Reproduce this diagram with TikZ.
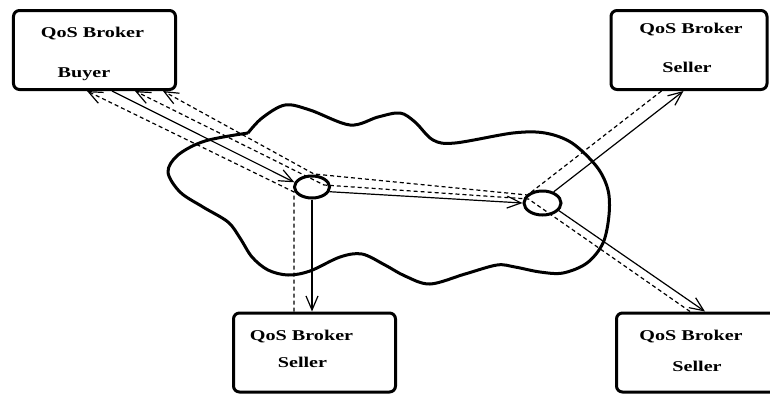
\documentclass[tikz,border=0pt]{standalone}
\usepackage{fontspec}
\setmainfont{Liberation Serif}[FakeStretch=1.35]
\usetikzlibrary{arrows.meta,shapes.geometric}
\begin{document}
\begin{tikzpicture}[x=1bp,y=-1bp,
  broker/.style={draw,line width=3bp,rounded corners=6bp,minimum width=162bp,minimum height=79bp,inner sep=0pt},
  router/.style={draw,ellipse,line width=3bp,minimum width=35bp,minimum height=22bp,inner sep=0pt},
  brokertext/.style={font=\fontsize{15}{18}\selectfont\bfseries,inner sep=0pt,anchor=base},
  request/.style={line width=1.2bp,-{Straight Barb[length=14bp,width=12bp]}},
  reply/.style={line width=1.2bp,dash pattern=on 4bp off 3bp,-{Straight Barb[length=14bp,width=12bp]}}]
\useasboundingbox (0,0) rectangle (770,395);
\clip (0,0) rectangle (770,395);
\draw [line width=3bp,line join=round] plot [smooth,tension=0.55] coordinates {
  (248,133) (262,118) (285,105) (310,110) (350,125) (378,117) (400,113) (415,122)
  (433,140) (455,143) (513,133) (545,133) (572,143) (597,167) (608,190) (609,215)
  (603,243) (587,263) (563,273) (540,272) (515,267) (497,265) (465,274) (430,284)
  (405,276) (385,265) (362,254) (340,257) (310,271) (288,275) (268,270) (252,257)
  (240,238) (228,222) (203,207) (180,192) (168,172) (178,155) (205,141) (248,133)};
\node [broker] (buyer) at (94.5,50) {};
\node [broker,minimum width=156bp] (seller-a) at (689,50) {};
\node [broker] (seller-b) at (314.5,352.5) {};
\node [broker] (seller-c) at (697.5,352.5) {};
\node [brokertext] (buyer-name) at (92.5,37) {QoS Broker};
\node [brokertext] (buyer-role) at (84,77) {Buyer};
\node [brokertext] (seller-a-name) at (691,33) {QoS Broker};
\node [brokertext] (seller-a-role) at (687,72) {Seller};
\node [brokertext] (seller-b-name) at (301.5,340) {QoS Broker};
\node [brokertext] (seller-b-role) at (302.5,367) {Seller};
\node [brokertext] (seller-c-name) at (691,340) {QoS Broker};
\node [brokertext] (seller-c-role) at (697,371) {Seller};
\node [router] (r1) at (312,187) {};
\node [router,minimum width=37bp,minimum height=24bp] (r2) at (542.5,203) {};
\draw [request] ([xshift=100bp]buyer.south west) -- (r1.165);
\draw [request] (r1.-15) -- (r2.180);
\draw [request] (r1.south) -- (r1.south |- seller-b.north);
\draw [request] (r2.45) -- ([xshift=74bp]seller-a.south west);
\draw [request] (r2.-25) -- ([xshift=90bp]seller-c.north west);
\coordinate (b1) at ([shift={(-18,5)}]r1.center);
\coordinate (a1) at ([shift={(2,-13)}]r1.center);
\coordinate (c1) at ([shift={(12,-2)}]r1.center);
\coordinate (a2) at ([shift={(-15,-8)}]r2.center);
\coordinate (c2) at ([shift={(-14,-4)}]r2.center);
\draw [reply] ([xshift=62bp]seller-b.north west) -- (b1) -- ([xshift=75bp]buyer.south west);
\draw [reply] ([xshift=52bp]seller-a.south west) -- (a2) -- (a1) -- ([xshift=151bp]buyer.south west);
\draw [reply] ([xshift=75bp]seller-c.north west) -- (c2) -- (c1) -- ([xshift=123bp]buyer.south west);
\end{tikzpicture}
\end{document}
